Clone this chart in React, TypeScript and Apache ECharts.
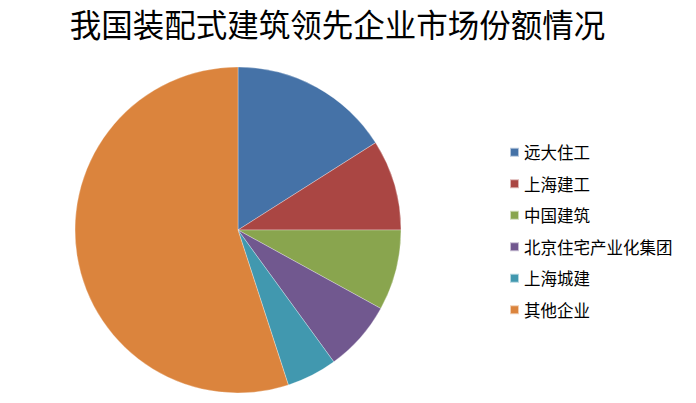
import { useEffect, useRef } from 'react';
import * as echarts from 'echarts';

const companies = ['远大住工', '上海建工', '中国建筑', '北京住宅产业化集团', '上海城建', '其他企业'];
const shares = [16, 9, 8, 7, 5, 55];
const colors = ['#4572A7', '#AA4643', '#89A54E', '#71588F', '#4198AF', '#DB843D'];

const App = () => {
  const chartRef = useRef<HTMLDivElement>(null);

  useEffect(() => {
    document.body.style.margin = '0';
    if (!chartRef.current) return;
    const chart = echarts.init(chartRef.current, null, { renderer: 'svg' });

    const option: echarts.EChartsOption = {
      animation: false,
      backgroundColor: '#fff',
      color: colors,
      title: {
        text: '我国装配式建筑领先企业市场份额情况',
        left: 337.5,
        top: 7,
        padding: 0,
        textAlign: 'center',
        textStyle: {
          fontFamily: 'Noto Sans CJK SC',
          fontSize: 31.5,
          fontWeight: 'normal',
          color: '#000'
        }
      },
      legend: {
        orient: 'vertical',
        left: 509,
        top: 144,
        padding: 0,
        itemWidth: 9,
        itemHeight: 9,
        itemGap: 15,
        icon: 'rect',
        textStyle: {
          fontFamily: 'Noto Sans CJK SC',
          fontSize: 16.5,
          color: '#000'
        },
        data: companies
      },
      series: [
        {
          name: '市场份额',
          type: 'pie',
          center: [238, 230],
          radius: 163,
          startAngle: 90,
          clockwise: true,
          label: { show: false },
          labelLine: { show: false },
          itemStyle: { borderColor: 'rgba(255,255,255,0.6)', borderWidth: 0.5 },
          emphasis: { disabled: true },
          data: companies.map((name, i) => ({ name, value: shares[i] }))
        }
      ]
    };

    chart.setOption(option);
    return () => {
      chart.dispose();
    };
  }, []);

  return <div ref={chartRef} style={{ width: 696, height: 403 }} />;
};

export default App;
